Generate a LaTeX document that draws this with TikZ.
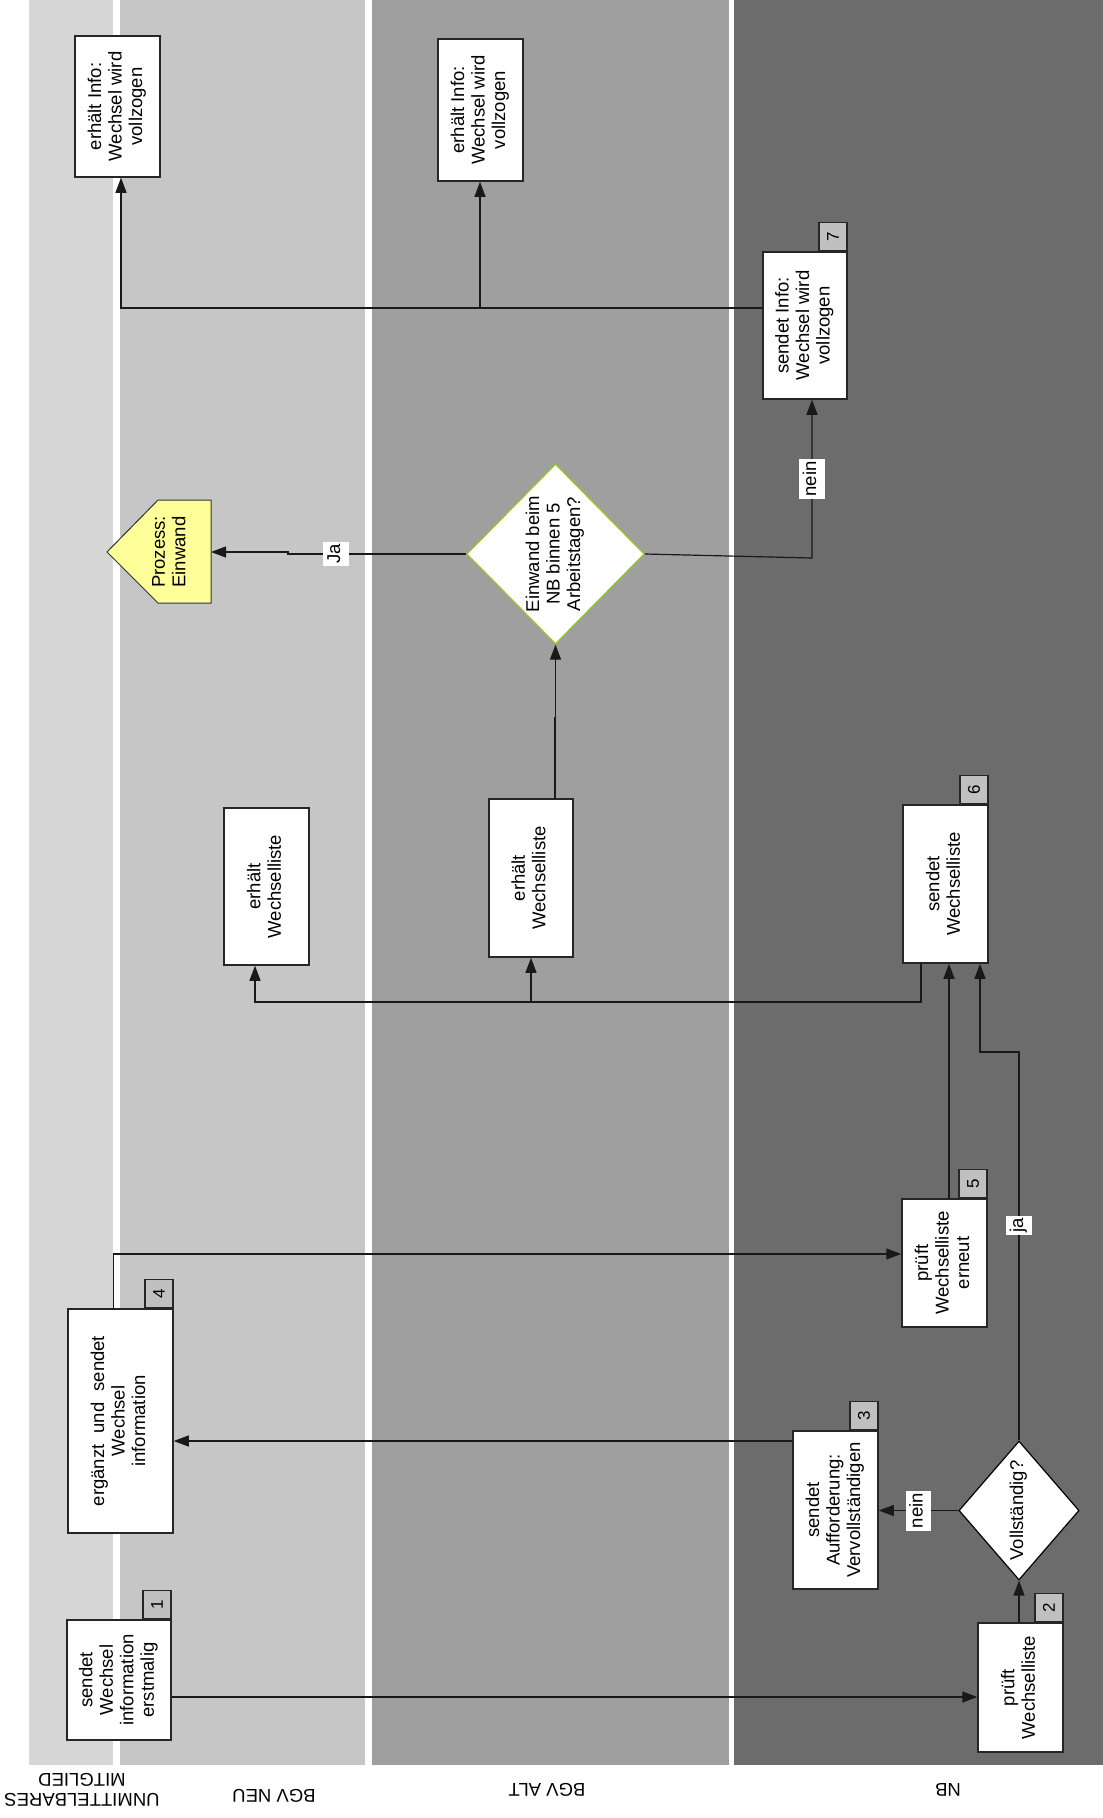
\documentclass[tikz,border=0pt]{standalone}
\usepackage{fontspec}
\setmainfont{Liberation Sans}
\usetikzlibrary{arrows.meta,shapes.geometric}
\definecolor{laneA}{HTML}{D6D6D6}
\definecolor{laneB}{HTML}{C6C6C6}
\definecolor{laneC}{HTML}{9F9F9F}
\definecolor{laneD}{HTML}{6C6C6C}
\definecolor{tabgray}{HTML}{C0C0C0}
\definecolor{procyellow}{HTML}{FFFF99}
\definecolor{decgreen}{RGB}{150,200,30}
\newcommand{\rt}[1]{\rotatebox{90}{\begin{tabular}{@{}c@{}}#1\end{tabular}}}
\begin{document}
\begin{tikzpicture}[x=1pt,y=-1pt,
  txt/.style={font=\fontsize{18.5}{20.5}\selectfont, inner sep=0pt},
  box/.style={txt, rectangle, draw=black!85, line width=1.5pt, fill=white},
  tabbox/.style={rectangle, draw=black!85, line width=1.5pt, fill=tabgray, minimum width=28pt, minimum height=28pt, inner sep=0pt, font=\fontsize{17}{19}\selectfont, anchor=south east},
  dec/.style={txt, diamond, draw=black, line width=1.2pt, fill=white},
  arr/.style={draw=black!90, line width=1.2pt, -{Triangle[length=15pt,width=11pt]}},
  lbl/.style={txt, fill=white, inner sep=2.5pt},
  lanelabel/.style={txt, rotate=180, align=center}
]
\useasboundingbox (0,0) rectangle (1103,1818);
\fill[white] (0,0) rectangle (1103,1818);
% lanes
\fill[laneA] (29,0) rectangle (113,1765);
\fill[laneB] (120,0) rectangle (365,1765);
\fill[laneC] (372,0) rectangle (729,1765);
\fill[laneD] (734,0) rectangle (1103,1765);
% lane labels
\node[lanelabel] (lm) at (82,1790) {UNMITTELBARES\\MITGLIED};
\node[lanelabel] (ln) at (274,1796) {BGV NEU};
\node[lanelabel] (la) at (547,1790) {BGV ALT};
\node[lanelabel] (lnb) at (948,1790) {NB};
% process boxes
\node[box, minimum width=104pt, minimum height=120pt] (b1) at (119,1680) {\rt{sendet\\Wechsel\\information\\erstmalig}};
\node[tabbox] (t1) at (b1.north east) {\rotatebox{90}{1}};
\node[box, minimum width=85pt, minimum height=129pt] (b2) at (1020.5,1687.5) {\rt{prüft\\Wechselliste}};
\node[tabbox] (t2) at (b2.north east) {\rotatebox{90}{2}};
\node[dec, minimum width=120pt, minimum height=139pt] (d1) at (1019,1510.5) {\rt{Vollständig?}};
\node[box, minimum width=85pt, minimum height=158pt] (b3) at (835.5,1510) {\rt{sendet\\Aufforderung:\\Vervollständigen}};
\node[tabbox] (t3) at (b3.north east) {\rotatebox{90}{3}};
\node[box, minimum width=105pt, minimum height=224pt] (b4) at (120.5,1421) {\rt{ergänzt\hspace{11pt}und\hspace{11pt}sendet\\Wechsel\\information}};
\node[tabbox] (t4) at (b4.north east) {\rotatebox{90}{4}};
\node[box, minimum width=85pt, minimum height=128pt] (b5) at (944.5,1263) {\rt{prüft\\Wechselliste\\erneut}};
\node[tabbox] (t5) at (b5.north east) {\rotatebox{90}{5}};
\node[box, minimum width=85pt, minimum height=158pt] (b6) at (945.5,884) {\rt{sendet\\Wechselliste}};
\node[tabbox] (t6) at (b6.north east) {\rotatebox{90}{6}};
\node[box, minimum width=85pt, minimum height=157pt] (b7a) at (266.5,886.5) {\rt{erhält\\Wechselliste}};
\node[box, minimum width=84pt, minimum height=158pt] (b7b) at (531,878) {\rt{erhält\\Wechselliste}};
\node[dec, draw=decgreen, minimum width=175pt, minimum height=180pt] (d2) at (555.5,554) {\rt{Einwand beim\\NB binnen 5\\Arbeitstagen?}};
\filldraw[fill=procyellow, draw=black!80, line width=1pt] (211,500) -- (158,500) -- (107,552) -- (158,603) -- (211,603) -- cycle;
\node[txt] (p1) at (171,552) {\rt{Prozess:\\Einwand}};
\coordinate (p1e) at (211,552);
\node[box, minimum width=84pt, minimum height=147pt] (b8) at (805,325.5) {\rt{sendet Info:\\Wechsel wird\\vollzogen}};
\node[tabbox] (t7) at (b8.north east) {\rotatebox{90}{7}};
\node[box, minimum width=85pt, minimum height=141pt] (b9) at (117.5,106.5) {\rt{erhält Info:\\Wechsel wird\\vollzogen}};
\node[box, minimum width=85pt, minimum height=142pt] (b10) at (480.5,110) {\rt{erhält Info:\\Wechsel wird\\vollzogen}};
% connectors
\coordinate (y1697) at (0,1697);
\draw[arr] (b1.east |- y1697) -- (b2.west |- y1697);
\draw[arr] (d1.south |- b2.north) -- (d1.south);
\draw[arr] (d1.west) -- node[lbl]{\rt{nein}} (d1.west -| b3.east);
\coordinate (y1441) at (0,1441);
\draw[arr] (b3.west |- y1441) -- (b4.east |- y1441);
\coordinate (j1) at (113.5,1254);
\draw[arr] (b4.north -| j1) -- (j1) -- (j1 -| b5.west);
\coordinate (j2) at (949,1100);
\draw[arr] (b5.north -| j2) -- (b6.south -| j2);
\coordinate (j3) at (1019,1052);
\coordinate (j4) at (980,1052);
\draw[arr] (d1.north) -- node[lbl,pos=0.553]{\rt{ja}} (j3) -- (j4) -- (j4 |- b6.south);
\coordinate (j5) at (921,1002);
\coordinate (j6) at (255,1002);
\coordinate (j7) at (531,1002);
\draw[arr] (b6.south -| j5) -- (j5) -- (j6) -- (j6 |- b7a.south);
\draw[arr] (j7) -- (j7 |- b7b.south);
\coordinate (j8) at (555,718);
\draw[arr] (b7b.north -| j8) -- (j8) -- (j8 -| d2.south) -- (d2.south);
\coordinate (j9) at (288,554);
\coordinate (j10) at (288,552);
\draw[arr] (d2.west) -- node[lbl,pos=0.73]{\rt{Ja}} (j9) -- (j10) -- (p1e);
\coordinate (j11) at (812,558);
\draw[arr] (d2.east) -- (j11) -- node[lbl]{\rt{nein}} (j11 |- b8.south);
\coordinate (j12) at (121,308);
\coordinate (j13) at (480,308);
\draw[arr] (b8.west |- j12) -- (j12) -- (j12 |- b9.south);
\draw[arr] (j13) -- (j13 |- b10.south);
\end{tikzpicture}
\end{document}
